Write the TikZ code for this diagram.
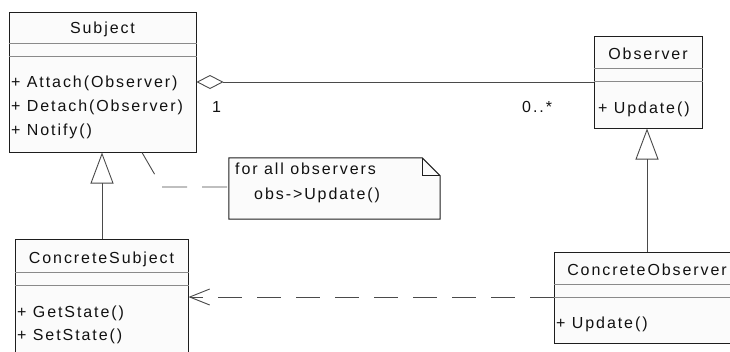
\documentclass[tikz,border=0pt]{standalone}
\usepackage{fontspec}
\newfontfamily\umlfont{Liberation Sans}[LetterSpace=12]
\usetikzlibrary{arrows.meta}
\definecolor{boxline}{HTML}{1E1E1E}
\definecolor{divline}{HTML}{8A8A8A}
\definecolor{conline}{HTML}{4A4A4A}
\definecolor{boxfill}{HTML}{FBFBFB}
\definecolor{inkcol}{HTML}{111111}

\begin{document}
\begin{tikzpicture}[x=1pt, y=-1pt,
  font=\umlfont\fontsize{16}{19}\selectfont,
  classbox/.style={draw=boxline, line width=1pt, fill=boxfill, inner sep=0pt},
  divider/.style={draw=divline, line width=1pt},
  member/.style={anchor=base west, inner sep=0pt, text=inkcol},
  title/.style={anchor=base, inner sep=0pt, text=inkcol},
  assoc/.style={draw=conline, line width=0.9pt},
  genline/.style={draw=conline, line width=0.9pt,
    -{Triangle[open, length=31pt, width=23pt, line width=0.9pt]}},
  depline/.style={draw=conline, line width=0.9pt, dash pattern=on 24pt off 15pt,
    -{Straight Barb[length=20pt, width=16pt, line width=0.9pt]}},
  notelink/.style={draw=conline, line width=0.9pt, dash pattern=on 25pt off 15pt},
  notebox/.style={draw=boxline, line width=1pt, fill=boxfill},
]
\useasboundingbox (0,0) rectangle (730,351);
\clip (0,0) rectangle (730,351);

% class boxes
\node[classbox, minimum width=187pt, minimum height=140pt] (subject)  at (102.5,82)  {};
\node[classbox, minimum width=108pt, minimum height=92pt]  (observer) at (648,82)    {};
\node[classbox, minimum width=173pt, minimum height=130pt] (csubj)    at (101.5,304) {};
\node[classbox, minimum width=186pt, minimum height=91pt]  (cobs)     at (647,297.5) {};

% compartment dividers
\draw[divider] (subject.west |- 0,43)  -- (subject.east |- 0,43);
\draw[divider] (subject.west |- 0,56)  -- (subject.east |- 0,56);
\draw[divider] (observer.west |- 0,68) -- (observer.east |- 0,68);
\draw[divider] (observer.west |- 0,81) -- (observer.east |- 0,81);
\draw[divider] (csubj.west |- 0,272)   -- (csubj.east |- 0,272);
\draw[divider] (csubj.west |- 0,285)   -- (csubj.east |- 0,285);
\draw[divider] (cobs.west |- 0,284)    -- (cobs.east |- 0,284);
\draw[divider] (cobs.west |- 0,297)    -- (cobs.east |- 0,297);

% class names
\node[title] (subjectname)  at (102.5,33) {Subject};
\node[title] (observername) at (648,59)   {Observer};
\node[title] (csubjname)    at (101.5,263) {ConcreteSubject};
\node[title] (cobsname)     at (647,275)  {ConcreteObserver};

% operations
\node[member] (attach) at (11,87)  {+ Attach(Observer)};
\node[member] (detach) at (11,111) {+ Detach(Observer)};
\node[member] (notify) at (11,135) {+ Notify()};
\node[member] (obsupd) at (598,113) {+ Update()};
\node[member] (getst)  at (17,317) {+ GetState()};
\node[member] (setst)  at (17,340) {+ SetState()};
\node[member] (cobsupd) at (556,328) {+ Update()};

% note with folded corner
\node[inner sep=0pt, minimum width=211pt, minimum height=61pt] (note) at (334.5,188.5) {};
\draw[notebox] (note.north west) -- ([xshift=-18pt]note.north east) coordinate (fold)
  -- ([yshift=-18pt]note.north east) coordinate (foldend)
  -- (note.south east) -- (note.south west) -- cycle;
\draw[boxline, line width=1pt] (fold) |- (foldend);
\node[member] (noteline1) at (235,174) {for all observers};
\node[member] (noteline2) at (254,199) {obs->Update()};

% association with aggregation diamond
\draw[assoc, {Diamond[open, length=27pt, width=14pt, line width=0.9pt]}-]
  (subject.east |- 0,82) -- (observer.west |- 0,82);
\node[member] (mult1) at (212,112) {1};
\node[member] (multn) at (522,112) {0..*};

% generalizations
\draw[genline] (csubj.north -| 102,0) -- (subject.south -| 102,0);
\draw[genline] (cobs.north) -- (cobs.north |- observer.south);

% dependency
\draw[depline] (cobs.west |- 0,297) -- (csubj.east |- 0,297);

% note anchor line
\coordinate (notebend) at (162,187);
\draw[notelink] (subject.south -| 142,0) -- (notebend) -- (note.west |- notebend);
\end{tikzpicture}
\end{document}
